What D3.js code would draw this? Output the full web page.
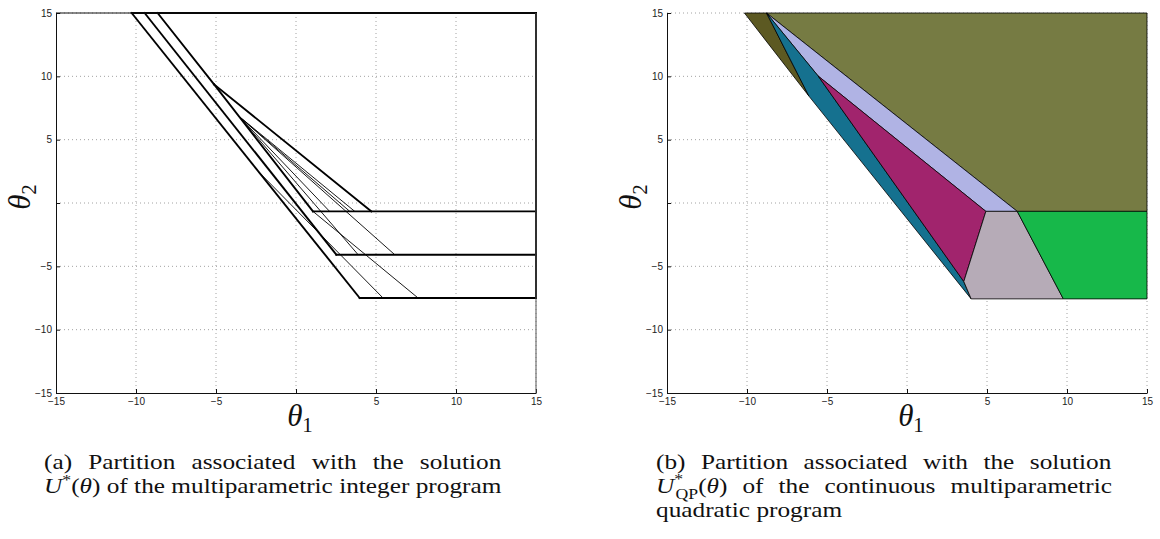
<!DOCTYPE html>
<html>
<head>
<meta charset="utf-8">
<script src="https://cdn.jsdelivr.net/npm/d3@7"></script>
<style>
body { margin: 0; background: #fff; }
svg text { font-family: "Liberation Sans", Arial, sans-serif; }
.cap text { font-family: "Liberation Serif", "Times New Roman", serif; font-size: 20px; fill: #111; }
.lab { font-family: "Liberation Serif", serif; fill: #111; }
</style>
</head>
<body>
<svg width="1160" height="539"></svg>
<script>
// axis values
var tickVals = [-15, -10, -5, 0, 5, 10, 15];
var gridVals = [-10, -5, 0, 5, 10, 15];

// (a) partition edges of the integer program, [x1, y1, x2, y2]
var heavyEdges = [
  [-10.27, 15, 15, 15],
  [15, 15, 15, -7.5],
  [1.06, -0.66, 15, -0.66],
  [2.52, -4.08, 15, -4.08],
  [3.98, -7.5, 15, -7.5],
  [-10.27, 15, 3.98, -7.5],
  [-9.46, 15, 2.52, -4.08],
  [-8.65, 15, -5.12, 9.36],
  [-5.12, 9.36, 4.71, -0.66],
  [-5.12, 9.36, 1.06, -0.66]
];
var lightEdges = [
  [-3.58, 6.86, 2.10, -0.66],
  [-3.58, 6.86, 3.36, -0.66],
  [-3.58, 6.86, 3.67, -0.66],
  [-3.58, 6.86, 6.17, -4.08],
  [-3.58, 6.86, 3.88, -4.08],
  [-2.31, 2.43, 5.44, -7.5],
  [1.06, -0.66, 7.63, -7.5]
];

// (b) critical regions of the continuous QP
var regionVerts = [
  [[-10.16, 15], [-8.78, 15], [-6.13, 8.44]],
  [[-8.78, 15], [15, 15], [15, -0.66], [6.89, -0.66]],
  [[-8.78, 15], [6.89, -0.66], [4.93, -0.66], [-5.55, 10.02]],
  [[-8.78, 15], [-5.55, 10.02], [3.55, -6.2], [4.01, -7.57], [-6.13, 8.44]],
  [[-5.55, 10.02], [4.93, -0.66], [3.55, -6.2]],
  [[4.93, -0.66], [6.89, -0.66], [9.77, -7.57], [4.01, -7.57], [3.55, -6.2]],
  [[6.89, -0.66], [15, -0.66], [15, -7.57], [9.77, -7.57]]
];
var regionColors = ["#5c5922", "#767b43", "#b0b3e4", "#15718f", "#a1246d", "#b6abb7", "#17b84a"];

var svg = d3.select("svg");
var W = 480, H = 380;

var x = d3.scaleLinear().domain([-15, 15]).range([0, W]);
var y = d3.scaleLinear().domain([-15, 15]).range([H, 0]);

function fmt(d) {
  if (d === 0) return "";
  return d < 0 ? "\u2212" + (-d) : "" + d;
}

function panel(left, top, boxed) {
  var g = svg.append("g").attr("transform", "translate(" + left + "," + top + ")");

  // dotted grid
  g.selectAll(".gx").data(gridVals).enter().append("line")
    .attr("x1", function(d) { return x(d); }).attr("x2", function(d) { return x(d); })
    .attr("y1", 0).attr("y2", H)
    .attr("stroke", "#8a8a8a").attr("stroke-width", 0.8).attr("stroke-dasharray", "1,3");
  g.selectAll(".gy").data(gridVals).enter().append("line")
    .attr("y1", function(d) { return y(d); }).attr("y2", function(d) { return y(d); })
    .attr("x1", 0).attr("x2", W)
    .attr("stroke", "#8a8a8a").attr("stroke-width", 0.8).attr("stroke-dasharray", "1,3");

  var body = g.append("g");

  var ax = g.append("g").attr("transform", "translate(0," + H + ")")
    .call(d3.axisBottom(x).tickValues(tickVals).tickFormat(fmt).tickSizeInner(-4).tickSizeOuter(0).tickPadding(5));
  var ay = g.append("g")
    .call(d3.axisLeft(y).tickValues(tickVals).tickFormat(fmt).tickSizeInner(-4).tickSizeOuter(0).tickPadding(4));
  [ax, ay].forEach(function(a) {
    a.selectAll("text").attr("font-size", 10).attr("fill", "#222")
      .attr("font-family", "Liberation Sans, Arial, sans-serif");
    a.select(".domain").attr("stroke", "#111").attr("stroke-width", 1);
    a.selectAll(".tick line").attr("stroke", "#111");
  });

  if (boxed) {
    g.append("line").attr("x1", 0).attr("x2", W).attr("y1", 0).attr("y2", 0)
      .attr("stroke", "#111").attr("stroke-width", 1);
    g.append("line").attr("x1", W).attr("x2", W).attr("y1", 0).attr("y2", H)
      .attr("stroke", "#555").attr("stroke-width", 1);
  }

  // axis labels
  g.append("text").attr("class", "lab")
    .attr("x", W / 2 + 4).attr("y", 413)
    .attr("text-anchor", "middle").attr("font-size", 31)
    .html('<tspan font-style="italic">θ</tspan><tspan font-size="21" dy="6">1</tspan>');
  g.append("text").attr("class", "lab")
    .attr("transform", "translate(-26," + (H / 2 - 6) + ") rotate(-90)")
    .attr("text-anchor", "middle").attr("font-size", 31)
    .html('<tspan font-style="italic">θ</tspan><tspan font-size="21" dy="6">2</tspan>');

  return body;
}

// (a)
var ga = panel(56, 13, true);
ga.selectAll(".light").data(lightEdges).enter().append("line")
  .attr("x1", function(d) { return x(d[0]); }).attr("y1", function(d) { return y(d[1]); })
  .attr("x2", function(d) { return x(d[2]); }).attr("y2", function(d) { return y(d[3]); })
  .attr("stroke", "#000").attr("stroke-width", 0.9);
ga.selectAll(".heavy").data(heavyEdges).enter().append("line")
  .attr("x1", function(d) { return x(d[0]); }).attr("y1", function(d) { return y(d[1]); })
  .attr("x2", function(d) { return x(d[2]); }).attr("y2", function(d) { return y(d[3]); })
  .attr("stroke", "#000").attr("stroke-width", 1.9).attr("stroke-linecap", "square");

// (b)
var gb = panel(667, 13, false);
var line = d3.line().x(function(p) { return x(p[0]); }).y(function(p) { return y(p[1]); });
gb.selectAll("path.region").data(regionVerts).enter().append("path")
  .attr("class", "region")
  .attr("d", function(d) { return line(d) + "Z"; })
  .attr("fill", function(d, i) { return regionColors[i]; })
  .attr("stroke", "#000").attr("stroke-width", 0.8).attr("stroke-linejoin", "round");

// captions
var capA = [
  '(a) Partition associated with the solution',
  '<tspan font-style="italic">U</tspan><tspan font-size="14" dy="-8">*</tspan><tspan dy="8">(</tspan><tspan font-style="italic">θ</tspan>) of the multiparametric integer program'
];
var capB = [
  '(b) Partition associated with the solution',
  '<tspan font-style="italic">U</tspan><tspan font-size="14" dy="-9">*</tspan><tspan font-size="14" dx="-6" dy="15">QP</tspan><tspan dy="-6">(</tspan><tspan font-style="italic">θ</tspan>) of the continuous multiparametric',
  'quadratic program'
];

// horizontal stretch taken from line 2 of (a), which is set at natural spacing
var capScale = (function() {
  var t = svg.append("text").attr("class", "cap").style("font-family", "Liberation Serif, serif")
    .style("font-size", "20px").html(capA[1]);
  var k = (502 - 44) / t.node().getBBox().width;
  t.remove();
  return k;
})();

function caption(lines, left, right, justify) {
  var g = svg.append("g").attr("class", "cap")
    .attr("transform", "translate(" + left + ",0) scale(" + capScale + ",1)");
  var target = (right - left) / capScale;
  lines.forEach(function(s, i) {
    var t = g.append("text").attr("x", 0).attr("y", 469 + i * 24).html(s);
    if (justify[i]) {
      var spaces = t.text().split(" ").length - 1;
      var ws = 0;
      for (var pass = 0; pass < 3; pass++) {
        var w = t.node().getBBox().width;
        ws = Math.max(0, ws + (target - w) / spaces);
        t.style("word-spacing", ws + "px");
      }
    }
  });
}
caption(capA, 44, 502, [true, false]);
caption(capB, 656, 1112, [true, true, false]);
</script>
</body>
</html>
